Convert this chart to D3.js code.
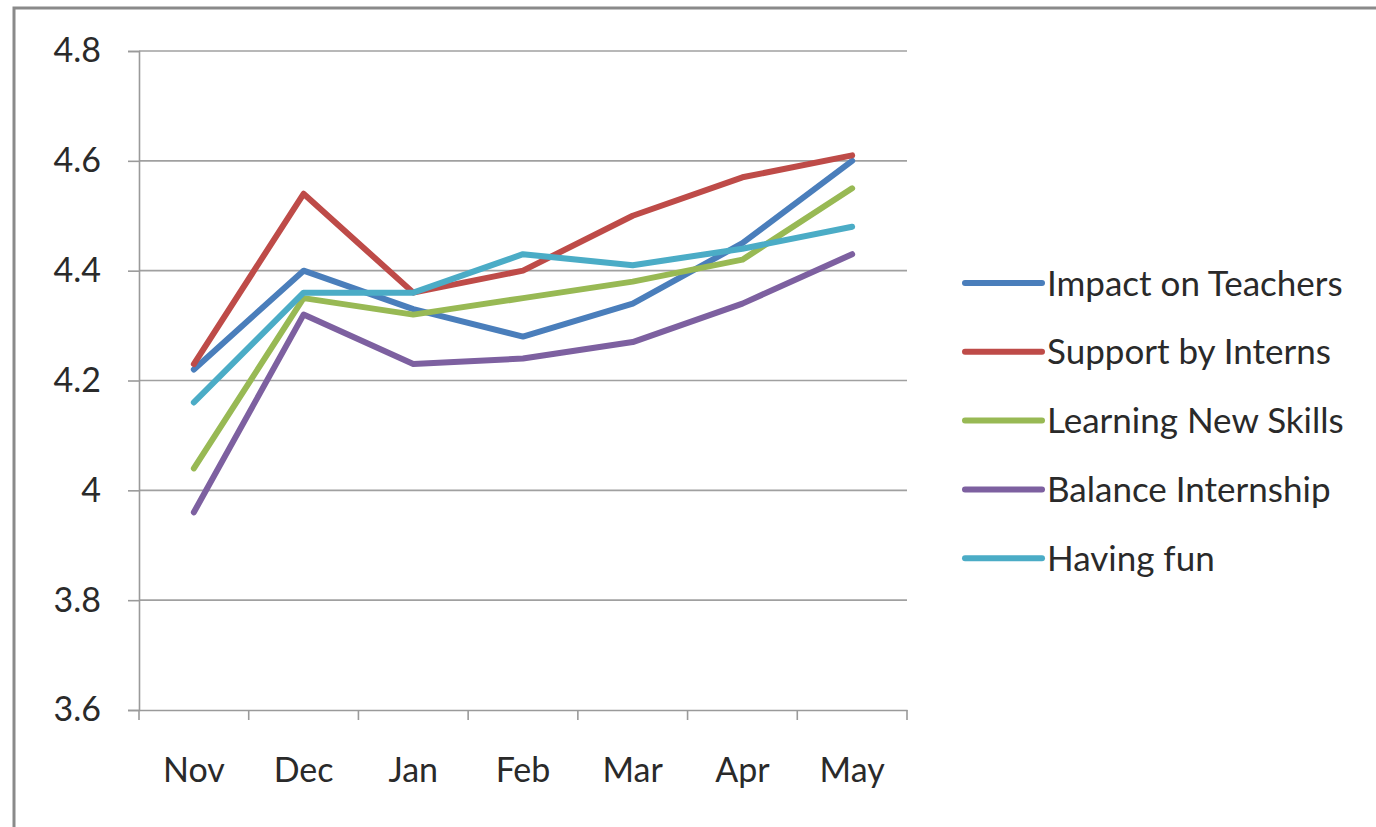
<!DOCTYPE html>
<html><head><meta charset="utf-8">
<script src="https://cdn.jsdelivr.net/npm/d3@7"></script>
<style>html,body{margin:0;padding:0;background:#fff;overflow:hidden}</style>
</head><body>
<svg id="chart" width="1376" height="827"></svg>
<script>
const months = ["Nov","Dec","Jan","Feb","Mar","Apr","May"];
const seriesNames = ["Impact on Teachers","Support by Interns","Learning New Skills","Balance Internship","Having fun"];
const impactOnTeachers   = [4.22, 4.40, 4.33, 4.28, 4.34, 4.45, 4.60];
const supportByInterns   = [4.23, 4.54, 4.36, 4.40, 4.50, 4.57, 4.61];
const learningNewSkills  = [4.04, 4.35, 4.32, 4.35, 4.38, 4.42, 4.55];
const balanceInternship  = [3.96, 4.32, 4.23, 4.24, 4.27, 4.34, 4.43];
const havingFun          = [4.16, 4.36, 4.36, 4.43, 4.41, 4.44, 4.48];
const yTicks = [3.6, 3.8, 4.0, 4.2, 4.4, 4.6, 4.8];
const yTickLabels = ["3.6","3.8","4","4.2","4.4","4.6","4.8"];
const colors = ["#4a7ebb","#be4b48","#98b954","#7d60a0","#4bacc6"];

const series = seriesNames.map((n,i)=>({name:n, values:[impactOnTeachers,supportByInterns,learningNewSkills,balanceInternship,havingFun][i], color:colors[i]}));

const svg = d3.select("#chart");
const font = "Lato, 'Open Sans', sans-serif";

// outer frame
svg.append("rect").attr("x",14).attr("y",8).attr("width",1400).attr("height",900)
  .attr("fill","none").attr("stroke","#8a8a8a").attr("stroke-width",3);

const pLeft=139, pRight=907, pTop=51, pBottom=710;
const x = d3.scaleBand().domain(months).range([pLeft,pRight]).padding(0);
const y = d3.scaleLinear().domain([3.6,4.8]).range([pBottom,pTop]);

// gridlines
svg.append("g").selectAll("line").data(yTicks.filter(t=>t>3.6)).join("line")
  .attr("x1",pLeft).attr("x2",pRight).attr("y1",d=>y(d)).attr("y2",d=>y(d))
  .attr("stroke","#a0a0a0").attr("stroke-width",1.6);

// y axis
const yAxis = svg.append("g").attr("transform",`translate(${pLeft},0)`)
  .call(d3.axisLeft(y).tickValues(yTicks).tickFormat((d,i)=>yTickLabels[i]).tickSize(11).tickPadding(27));
yAxis.select(".domain").attr("stroke","#9a9a9a").attr("stroke-width",1.6);
yAxis.selectAll(".tick line").attr("stroke","#9a9a9a").attr("stroke-width",1.6);
yAxis.selectAll("text").attr("font-family",font).attr("font-size",34).attr("fill","#2a2a2a");

// x axis
const xAxis = svg.append("g").attr("transform",`translate(0,${pBottom})`)
  .call(d3.axisBottom(x).tickSize(0).tickPadding(48));
xAxis.select(".domain").attr("stroke","#9a9a9a").attr("stroke-width",1.6);
xAxis.selectAll("text").attr("font-family",font).attr("font-size",34).attr("fill","#2a2a2a");
// category boundary ticks
const bounds = months.map(m=>x(m)).concat([x(months[months.length-1])+x.bandwidth()]);
svg.append("g").selectAll("line").data(bounds).join("line")
  .attr("x1",d=>d).attr("x2",d=>d).attr("y1",pBottom).attr("y2",pBottom+10)
  .attr("stroke","#9a9a9a").attr("stroke-width",1.6);

// lines
const line = d3.line().x((d,i)=>x(months[i])+x.bandwidth()/2).y(d=>y(d));
svg.append("g").selectAll("path").data(series).join("path")
  .attr("d",d=>line(d.values)).attr("fill","none").attr("stroke",d=>d.color)
  .attr("stroke-width",6).attr("stroke-linejoin","round").attr("stroke-linecap","round");

// legend
const lg = svg.append("g").selectAll("g").data(series).join("g")
  .attr("transform",(d,i)=>`translate(965,${283+i*68.8})`);
lg.append("line").attr("x1",0).attr("x2",77).attr("y1",0).attr("y2",0)
  .attr("stroke",d=>d.color).attr("stroke-width",6).attr("stroke-linecap","round");
lg.append("text").attr("x",82).attr("y",0).attr("dy","0.36em")
  .attr("font-family",font).attr("font-size",35).attr("fill","#2a2a2a").text(d=>d.name);
</script>
</body></html>
